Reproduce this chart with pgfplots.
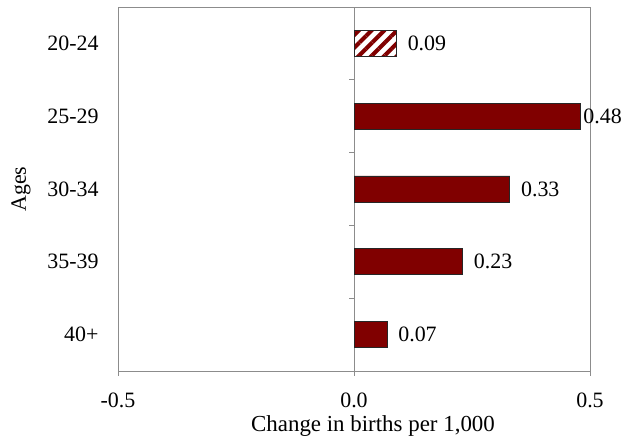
\documentclass[border=0pt]{standalone}
\usepackage{pgfplots}
\pgfplotsset{compat=1.18}
\usepackage{fontspec}
\setmainfont{Liberation Serif}
\usetikzlibrary{patterns.meta}
\definecolor{maroon}{RGB}{128,0,0}
\definecolor{axgray}{RGB}{140,140,140}
\begin{document}
\begin{tikzpicture}
% zero line with category separators
\begin{axis}[
  scale only axis, width=472bp, height=364bp,
  xmin=-0.5, xmax=0.5, ymin=-0.5, ymax=4.5,
  axis x line=none, axis y line=center,
  ytick={0.5,1.5,2.5,3.5}, yticklabels={},
  tick align=outside, major tick length=5bp,
  tick style={axgray, line width=0.8bp},
  axis line style={axgray, line width=0.8bp, -},
]
\end{axis}
\begin{axis}[
  name=main,
  scale only axis, width=472bp, height=364bp,
  xmin=-0.5, xmax=0.5, ymin=-0.5, ymax=4.5,
  xtick={-0.5,0,0.5}, xticklabels={-0.5,0.0,0.5},
  xtick pos=bottom, tick align=outside,
  ytick={0,1,2,3,4}, yticklabels={40+,35-39,30-34,25-29,20-24},
  ytick style={draw=none},
  major tick length=5bp,
  tick style={axgray, line width=0.8bp},
  axis line style={axgray, line width=0.8bp},
  ticklabel style={font=\fontsize{22}{26}\selectfont},
  xticklabel style={yshift=-13bp},
  yticklabel style={xshift=-11bp},
  xlabel={Change in births per 1,000}, ylabel={Ages},
  label style={font=\fontsize{22}{26}\selectfont},
  xlabel style={font=\fontsize{23}{27}\selectfont, at={(axis description cs:0.5,0)}, anchor=base, xshift=19bp, yshift=-61bp},
  ylabel style={at={(axis description cs:0,0.5)}, anchor=center, yshift=97bp},
  xbar, bar width=26bp, bar shift=0pt,
  nodes near coords,
  /pgf/number format/fixed, /pgf/number format/fixed zerofill,
  /pgf/number format/precision=2, /pgf/number format/assume math mode=true,
  nodes near coords style={font=\fontsize{22}{26}\selectfont, anchor=west, inner xsep=1bp, xshift=10bp},
]
\addplot[fill=maroon, draw=black!85, line width=0.6bp] coordinates {(0.33,2)(0.23,1)(0.07,0)};
\addplot[fill=maroon, draw=black!85, line width=0.6bp, nodes near coords style={xshift=-8.5bp}] coordinates {(0.48,3)};
\addplot[draw=black!85, line width=0.6bp, pattern={Lines[angle=45,distance=9bp,line width=4bp]}, pattern color=maroon] coordinates {(0.09,4)};
\end{axis}
\path ([shift={(-118bp,-69bp)}]main.south west) rectangle ([shift={(33bp,7bp)}]main.north east);
\end{tikzpicture}
\end{document}
